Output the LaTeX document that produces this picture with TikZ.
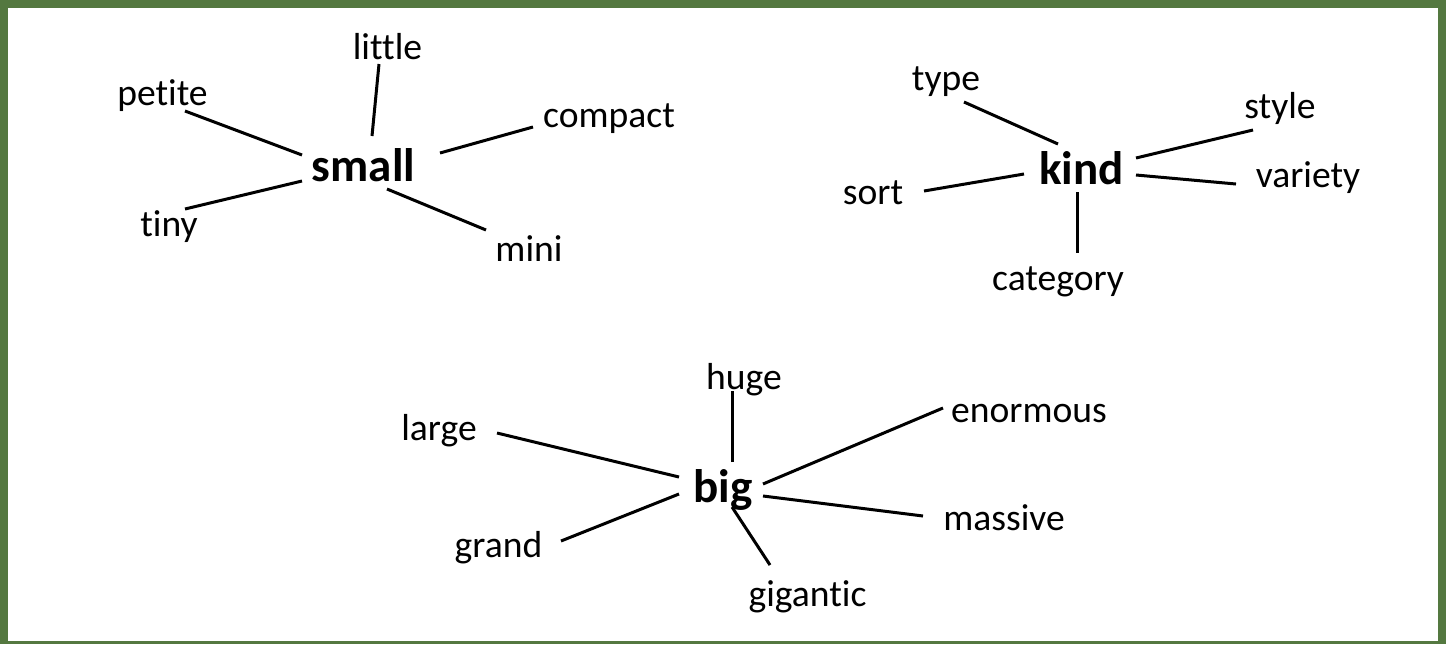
\documentclass[tikz,border=0pt]{standalone}
\usepackage{fontspec}
\setmainfont{Carlito}[Ligatures=NoCommon]
\definecolor{framegreen}{RGB}{84,120,64}
\tikzset{
  word/.style={font=\fontsize{18.8}{22}\selectfont, anchor=base, inner sep=0pt},
  hub/.style={word, font=\fontsize{23.5}{28}\selectfont\bfseries},
  link/.style={line width=1.5pt}
}
\begin{document}
\begin{tikzpicture}[x=0.5pt,y=-0.5pt]
\useasboundingbox (0,0) rectangle (1446,644);
\fill[framegreen] (0,0) rectangle (1446,644);
\fill[white] (8,8) rectangle (1438,641);

% small
\node[hub] (small) at (363.5,181) {small};
\node[word] (little) at (387.5,59) {little};
\node[word] (petite) at (162.5,105) {petite};
\node[word] (compact) at (609,127) {compact};
\node[word] (tiny) at (169,236) {tiny};
\node[word] (mini) at (529,261) {mini};
\draw[link] ([shift={(8.5,-45)}]small.base) -- ([shift={(-8.5,5)}]little.base);
\draw[link] ([shift={(-61.5,-26)}]small.base) -- ([shift={(22.5,6)}]petite.base);
\draw[link] ([shift={(76.5,-28)}]small.base) -- ([shift={(-76,0)}]compact.base);
\draw[link] ([shift={(-61.5,0)}]small.base) -- ([shift={(16,-27)}]tiny.base);
\draw[link] ([shift={(23.5,8)}]small.base) -- ([shift={(-43,-31)}]mini.base);

% kind
\node[hub] (kind) at (1081.5,184) {kind};
\node[word] (type) at (946,90) {type};
\node[word] (style) at (1280,118) {style};
\node[word] (sort) at (873,204) {sort};
\node[word] (variety) at (1308,187) {variety};
\node[word] (category) at (1058,290) {category};
\draw[link] ([shift={(-23.5,-40)}]kind.base) -- ([shift={(18,12)}]type.base);
\draw[link] ([shift={(54.5,-26)}]kind.base) -- ([shift={(-27,12)}]style.base);
\draw[link] ([shift={(-57.5,-10)}]kind.base) -- ([shift={(51,-13)}]sort.base);
\draw[link] ([shift={(54.5,-9)}]kind.base) -- ([shift={(-72,-3)}]variety.base);
\draw[link] ([shift={(-4.5,8)}]kind.base) -- ([shift={(19,-37)}]category.base);

% big
\node[hub] (big) at (723,502) {big};
\node[word] (huge) at (744,389) {huge};
\node[word] (large) at (439,440) {large};
\node[word] (enormous) at (1029,422) {enormous};
\node[word] (massive) at (1004,530) {massive};
\node[word] (grand) at (498.5,557) {grand};
\node[word] (gigantic) at (807.5,606) {gigantic};
\draw[link] ([shift={(9,-40)}]big.base) -- ([shift={(-12,2)}]huge.base);
\draw[link] ([shift={(-44,-25)}]big.base) -- ([shift={(58,-7)}]large.base);
\draw[link] ([shift={(40,-18)}]big.base) -- ([shift={(-86,-14)}]enormous.base);
\draw[link] ([shift={(40,-6)}]big.base) -- ([shift={(-81,-14)}]massive.base);
\draw[link] ([shift={(-44,-8)}]big.base) -- ([shift={(62.5,-16)}]grand.base);
\draw[link] ([shift={(9,5)}]big.base) -- ([shift={(-37.5,-41)}]gigantic.base);
\end{tikzpicture}
\end{document}
